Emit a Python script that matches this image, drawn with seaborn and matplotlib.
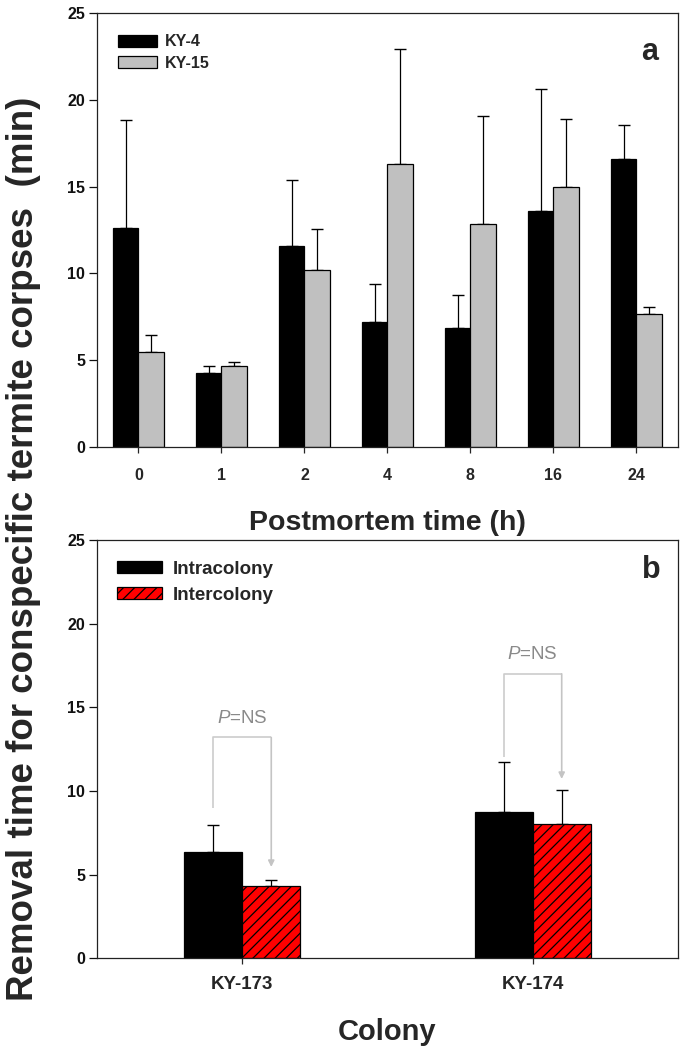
import numpy as np
import pandas as pd
import matplotlib
matplotlib.use("Agg")
import matplotlib.pyplot as plt
import seaborn as sns

# ---------------- data ----------------
times = ["0", "1", "2", "4", "8", "16", "24"]
ky4_mean = [12.6, 4.27, 11.58, 7.21, 6.85, 13.58, 16.6]
ky4_err = [6.25, 0.40, 3.79, 2.16, 1.92, 7.05, 1.96]
ky15_mean = [5.48, 4.67, 10.21, 16.33, 12.83, 14.96, 7.65]
ky15_err = [0.96, 0.23, 2.35, 6.59, 6.27, 3.96, 0.43]

colonies = ["KY-173", "KY-174"]
intra_mean = [6.35, 8.75]
intra_err = [1.62, 2.98]
inter_mean = [4.32, 8.03]
inter_err = [0.36, 2.03]

# annotation brackets (y in data units)
bracket_top = [13.2, 17.0]
bracket_left_bottom = [8.98, 12.05]
arrow_tip = [5.46, 10.72]
p_label = ["$P$=NS", "$P$=NS"]

# ---------------- style ----------------
sns.set_style("ticks")
plt.rcParams["font.family"] = ["Liberation Sans", "DejaVu Sans"]
plt.rcParams["mathtext.fontset"] = "custom"
plt.rcParams["mathtext.it"] = "Liberation Sans:italic"
plt.rcParams["mathtext.rm"] = "Liberation Sans"
plt.rcParams["hatch.linewidth"] = 0.9

fig = plt.figure(figsize=(6.85, 10.51), dpi=100)
ax1 = fig.add_axes([0.1416, 0.5750, 0.848, 0.4124])
ax2 = fig.add_axes([0.1416, 0.0882, 0.848, 0.398])

# ---------------- panel a ----------------
df_a = pd.DataFrame({
    "time": times * 2,
    "value": ky4_mean + ky15_mean,
    "colony": ["KY-4"] * len(times) + ["KY-15"] * len(times),
})
sns.barplot(data=df_a, x="time", y="value", hue="colony", order=times,
            hue_order=["KY-4", "KY-15"],
            palette={"KY-4": "black", "KY-15": "#c0c0c0"},
            width=0.615, errorbar=None, edgecolor="black", linewidth=0.9,
            saturation=1, legend=False, ax=ax1)
bars_a = list(ax1.containers)
ax1.set_xlim(-0.5, len(times) - 0.5)

# ---------------- panel b ----------------
df_b = pd.DataFrame({
    "colony": colonies * 2,
    "value": intra_mean + inter_mean,
    "group": ["Intracolony"] * len(colonies) + ["Intercolony"] * len(colonies),
})
sns.barplot(data=df_b, x="colony", y="value", hue="group", order=colonies,
            hue_order=["Intracolony", "Intercolony"],
            palette={"Intracolony": "black", "Intercolony": "#ff0000"},
            width=0.4, errorbar=None, edgecolor="black", linewidth=0.9,
            saturation=1, legend=False, ax=ax2)
bars_b = list(ax2.containers)
ax2.set_xlim(-0.5, len(colonies) - 0.5)
for p in bars_b[1]:
    p.set_hatch("///")


def add_err(ax, conts, errs):
    for cont, e in zip(conts, errs):
        xs = [p.get_x() + p.get_width() / 2 for p in cont]
        ys = [p.get_height() for p in cont]
        ax.errorbar(xs, ys, yerr=[np.zeros(len(e)), e], fmt="none",
                    ecolor="black", elinewidth=0.9, capsize=4.2,
                    capthick=1.0, zorder=0.5)
        for p in cont:
            p.set_zorder(1.0)


add_err(ax1, bars_a, [ky4_err, ky15_err])
add_err(ax2, bars_b, [intra_err, inter_err])

# brackets
c_intra, c_inter = bars_b
for i in range(len(colonies)):
    xl = c_intra[i].get_x() + c_intra[i].get_width() / 2
    xr = c_inter[i].get_x() + c_inter[i].get_width() / 2
    ax2.plot([xl, xl, xr], [bracket_left_bottom[i], bracket_top[i], bracket_top[i]],
             color="#cccccc", lw=1.2, solid_capstyle="butt", zorder=0.8)
    ax2.annotate("", xy=(xr, arrow_tip[i]), xytext=(xr, bracket_top[i]),
                 arrowprops=dict(arrowstyle="-|>", color="#c4c4c4", lw=1.2,
                                 mutation_scale=9, shrinkA=0, shrinkB=0),
                 zorder=0.8)
    ax2.text((xl + xr) / 2, bracket_top[i] + 1.15, p_label[i], ha="center",
             va="center", color="#8a8a8a", fontsize=13.5)

# ---------------- axes styling ----------------
for ax in (ax1, ax2):
    ax.set_ylim(0, 25)
    ax.set_yticks(range(0, 26, 5))
    for s in ax.spines.values():
        s.set_visible(True)
        s.set_linewidth(0.9)
        s.set_color("#222222")
    ax.tick_params(axis="y", direction="out", length=6, width=0.9,
                   pad=2.5, labelsize=11.5, colors="#111111")
    ax.set_ylabel("")
    for lab in ax.get_yticklabels():
        lab.set_fontweight("bold")

ax1.tick_params(axis="x", direction="out", length=4.5, width=0.9, pad=11,
                labelsize=11.5)
ax2.tick_params(axis="x", direction="out", length=4.5, width=0.9, pad=8,
                labelsize=13.5)
for ax in (ax1, ax2):
    for lab in ax.get_xticklabels():
        lab.set_fontweight("bold")

ax1.set_xlabel("Postmortem time (h)", fontsize=20.5, fontweight="bold",
               labelpad=19)
ax2.set_xlabel("Colony", fontsize=21, fontweight="bold", labelpad=18)

fig.text(0.034, 0.4777, "Removal time for conspecific termite corpses  (min)",
         rotation=90, ha="center", va="center", fontsize=26.5,
         fontweight="bold")

ax1.text(0.952, 0.911, "a", transform=ax1.transAxes, ha="center",
         va="center", fontsize=22, fontweight="bold")
ax2.text(0.955, 0.928, "b", transform=ax2.transAxes, ha="center",
         va="center", fontsize=22, fontweight="bold")

ax1.legend(handles=bars_a, labels=["KY-4", "KY-15"],
           loc="upper left", bbox_to_anchor=(0.036, 0.951), frameon=False,
           prop=dict(weight="bold", size=11.5), handlelength=2.45,
           handleheight=0.78, handletextpad=0.5, labelspacing=0.4,
           borderpad=0, borderaxespad=0)
ax2.legend(handles=bars_b, labels=["Intracolony", "Intercolony"],
           loc="upper left", bbox_to_anchor=(0.0344, 0.951), frameon=False,
           prop=dict(weight="bold", size=13.5), handlelength=2.4,
           handleheight=0.61, handletextpad=0.55, labelspacing=0.5,
           borderpad=0, borderaxespad=0)

fig.savefig("out.png", dpi=100)
